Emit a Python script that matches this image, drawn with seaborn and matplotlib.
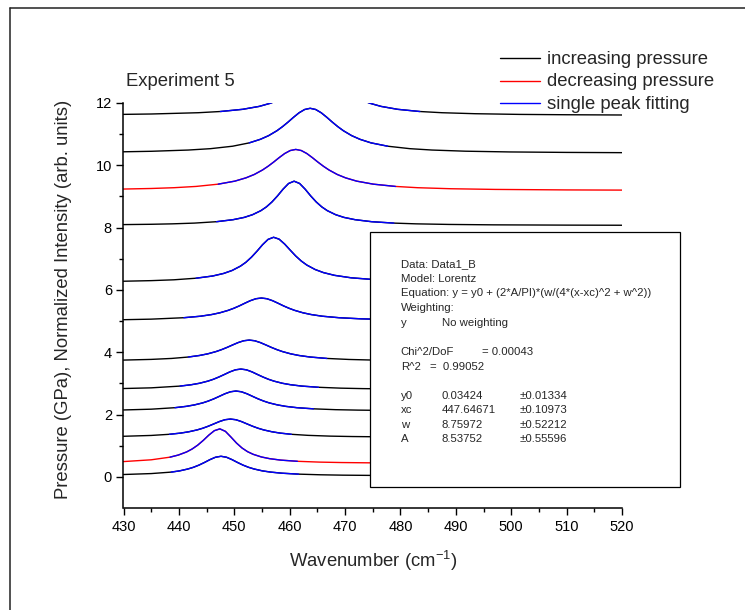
import matplotlib
matplotlib.use("Agg")
import matplotlib.pyplot as plt
from matplotlib.lines import Line2D
from matplotlib.patches import Rectangle
import numpy as np
import pandas as pd
import seaborn as sns

# ---------------- data ----------------
x1 = [430, 435, 438.6, 440.1, 441.6, 442.6, 443.6, 444.6, 445.6, 446.6, 447.6, 448.6, 449.6, 450.6,
      451.6, 452.6, 453.6, 455.1, 456.6, 458.6, 461.6, 465.6, 469.6, 475.6, 483.6, 500, 510, 520]
y1 = [0.075, 0.105, 0.152, 0.191, 0.251, 0.305, 0.375, 0.46, 0.552, 0.629, 0.66, 0.629, 0.552, 0.46,
      0.375, 0.305, 0.251, 0.191, 0.152, 0.117, 0.087, 0.066, 0.054, 0.045, 0.039, 0.034, 0.033, 0.032]

x2 = [430, 435, 438.4, 439.9, 441.4, 442.4, 443.4, 444.4, 445.4, 446.4, 447.4, 448.4, 449.4, 450.4,
      451.4, 452.4, 453.4, 454.9, 456.4, 458.4, 461.4, 465.4, 469.4, 475.4, 483.4, 500, 510, 520]
y2 = [0.49, 0.547, 0.632, 0.70, 0.80, 0.895, 1.018, 1.17, 1.339, 1.482, 1.54, 1.46, 1.278, 1.085,
      0.926, 0.808, 0.724, 0.638, 0.583, 0.537, 0.499, 0.473, 0.459, 0.448, 0.441, 0.435, 0.432, 0.43]

x3 = [430, 435, 438.3, 440.3, 441.8, 443.3, 444.3, 445.3, 446.3, 447.3, 448.3, 449.3, 450.3, 451.3,
      452.3, 453.3, 454.3, 455.3, 456.8, 458.3, 460.3, 463.3, 467.3, 471.3, 477.3, 485.3, 500, 510, 520]
y3 = [1.302, 1.329, 1.366, 1.404, 1.447, 1.507, 1.56, 1.625, 1.699, 1.774, 1.833, 1.855, 1.833, 1.774,
      1.699, 1.625, 1.56, 1.507, 1.447, 1.404, 1.366, 1.332, 1.307, 1.294, 1.283, 1.276, 1.271, 1.268, 1.266]

x4 = [430, 435, 439.3, 441.3, 442.8, 444.3, 445.3, 446.3, 447.3, 448.3, 449.3, 450.3, 451.3, 452.3,
      453.3, 454.3, 455.3, 456.3, 457.8, 459.3, 461.3, 464.3, 468.3, 472.3, 478.3, 486.3, 500, 510, 520]
y4 = [2.147, 2.172, 2.22, 2.262, 2.309, 2.374, 2.433, 2.503, 2.584, 2.666, 2.73, 2.755, 2.73, 2.666,
      2.584, 2.503, 2.433, 2.374, 2.309, 2.262, 2.22, 2.183, 2.156, 2.142, 2.13, 2.122, 2.116, 2.113, 2.111]

x5 = [430, 435, 440.2, 442.2, 443.7, 445.2, 446.2, 447.2, 448.2, 449.2, 450.2, 451.2, 452.2, 453.2,
      454.2, 455.2, 456.2, 457.2, 458.7, 460.2, 462.2, 465.2, 469.2, 473.2, 479.2, 487.2, 500, 510, 520]
y5 = [2.835, 2.857, 2.913, 2.956, 3.003, 3.071, 3.13, 3.203, 3.285, 3.369, 3.435, 3.46, 3.435, 3.369,
      3.285, 3.203, 3.13, 3.071, 3.003, 2.956, 2.913, 2.875, 2.847, 2.832, 2.82, 2.812, 2.807, 2.805, 2.803]

x6 = [430, 435, 438.7, 441.7, 443.7, 445.2, 446.7, 447.7, 448.7, 449.7, 450.7, 451.7, 452.7, 453.7,
      454.7, 455.7, 456.7, 457.7, 458.7, 460.2, 461.7, 463.7, 466.7, 470.7, 474.7, 480.7, 488.7, 500, 510, 520]
y6 = [3.748, 3.77, 3.801, 3.846, 3.895, 3.948, 4.021, 4.083, 4.155, 4.234, 4.31, 4.368, 4.39, 4.368,
      4.31, 4.234, 4.155, 4.083, 4.021, 3.948, 3.895, 3.846, 3.801, 3.768, 3.75, 3.735, 3.726, 3.719, 3.716, 3.714]

x7 = [430, 435, 440.9, 443.9, 445.9, 447.4, 448.9, 449.9, 450.9, 451.9, 452.9, 453.9, 454.9, 455.9,
      456.9, 457.9, 458.9, 459.9, 460.9, 462.4, 463.9, 465.9, 468.9, 472.9, 476.9, 482.9, 490.9, 500, 510, 520]
y7 = [5.044, 5.062, 5.108, 5.156, 5.209, 5.266, 5.344, 5.41, 5.487, 5.573, 5.655, 5.717, 5.74, 5.717,
      5.655, 5.573, 5.487, 5.41, 5.344, 5.266, 5.209, 5.156, 5.108, 5.072, 5.053, 5.037, 5.027, 5.021, 5.017, 5.014]

x8 = [430, 435, 439.1, 443.1, 446.1, 448.1, 449.6, 451.1, 452.1, 453.1, 454.1, 455.1, 456.1, 457.1,
      458.1, 459.1, 460.1, 461.1, 462.1, 463.1, 464.6, 466.1, 468.1, 471.1, 475.1, 479.1, 485.1, 493.1, 500, 510, 520]
y8 = [6.279, 6.298, 6.325, 6.376, 6.447, 6.53, 6.624, 6.762, 6.888, 7.051, 7.243, 7.451, 7.622, 7.69,
      7.629, 7.471, 7.277, 7.088, 6.927, 6.798, 6.655, 6.556, 6.468, 6.389, 6.334, 6.305, 6.281, 6.265, 6.258, 6.252, 6.249]

x9 = [430, 435, 438.8, 442.8, 446.8, 449.8, 451.8, 453.3, 454.8, 455.8, 456.8, 457.8, 458.8, 459.8,
      460.8, 461.8, 462.8, 463.8, 464.8, 465.8, 466.8, 468.3, 469.8, 471.8, 474.8, 478.8, 482.8, 488.8, 496.8, 510, 520]
y9 = [8.097, 8.107, 8.121, 8.145, 8.19, 8.255, 8.328, 8.415, 8.544, 8.665, 8.823, 9.017, 9.233, 9.416,
      9.49, 9.416, 9.233, 9.017, 8.823, 8.665, 8.544, 8.415, 8.328, 8.255, 8.19, 8.145, 8.121, 8.102, 8.089, 8.08, 8.076]

x10 = [430, 435, 439.1, 443.1, 447.1, 450.1, 452.1, 453.6, 455.1, 456.1, 457.1, 458.1, 459.1, 460.1,
       461.1, 462.1, 463.1, 464.1, 465.1, 466.1, 467.1, 468.6, 470.1, 472.1, 475.1, 479.1, 483.1, 489.1, 497.1, 510, 520]
y10 = [9.238, 9.256, 9.281, 9.322, 9.395, 9.492, 9.597, 9.705, 9.85, 9.969, 10.103, 10.246, 10.378, 10.474,
       10.51, 10.474, 10.378, 10.246, 10.103, 9.969, 9.85, 9.705, 9.597, 9.492, 9.395, 9.322, 9.281, 9.248, 9.226, 9.21, 9.204]

x11 = [430, 435, 441.7, 445.7, 449.7, 452.7, 454.7, 456.2, 457.7, 458.7, 459.7, 460.7, 461.7, 462.7,
       463.7, 464.7, 465.7, 466.7, 467.7, 468.7, 469.7, 471.2, 472.7, 474.7, 477.7, 481.7, 485.7, 491.7, 499.7, 510, 520]
y11 = [10.434, 10.45, 10.49, 10.534, 10.613, 10.72, 10.834, 10.952, 11.11, 11.24, 11.386, 11.542, 11.686, 11.791,
       11.83, 11.791, 11.686, 11.542, 11.386, 11.24, 11.11, 10.952, 10.834, 10.72, 10.613, 10.534, 10.49, 10.453, 10.429, 10.414, 10.406]

x12 = [430, 435, 443.5, 447.5, 451.5, 454.5, 456.5, 458.0, 459.5, 460.5, 461.5, 462.5, 463.5, 464.5,
       465.5, 466.5, 467.5, 468.5, 469.5, 470.5, 471.5, 473.0, 474.5, 476.5, 479.5, 483.5, 487.5, 493.5, 501.5, 510, 520]
y12 = [11.635, 11.647, 11.688, 11.727, 11.797, 11.891, 11.991, 12.095, 12.235, 12.349, 12.479, 12.616, 12.743, 12.836,
       12.87, 12.836, 12.743, 12.616, 12.479, 12.349, 12.235, 12.095, 11.991, 11.891, 11.797, 11.727, 11.688, 11.656, 11.634, 11.623, 11.615]

curve_x = [x1, x2, x3, x4, x5, x6, x7, x8, x9, x10, x11, x12]
curve_y = [y1, y2, y3, y4, y5, y6, y7, y8, y9, y10, y11, y12]
curve_kind = ["increasing pressure", "decreasing pressure", "increasing pressure",
              "increasing pressure", "increasing pressure", "increasing pressure",
              "increasing pressure", "increasing pressure", "increasing pressure",
              "decreasing pressure", "increasing pressure", "increasing pressure"]
# wavenumber range covered by the single peak fit of each curve
fit_lo = [436, 436, 436, 437, 437, 439.5, 439.5, 443, 446, 447, 451, 447]
fit_hi = [465, 463, 463, 465, 466.5, 468.5, 478, 478, 480, 480, 478, 484]

legend_labels = ["increasing pressure", "decreasing pressure", "single peak fitting"]
legend_colors = ["#000000", "#ff0000", "#0000ff"]

x_ticks = [430, 440, 450, 460, 470, 480, 490, 500, 510, 520]
y_ticks = [0, 2, 4, 6, 8, 10, 12]

box_lines = [
    ["Data: Data1_B"],
    ["Model: Lorentz"],
    ["Equation: y = y0 + (2*A/PI)*(w/(4*(x-xc)^2 + w^2))"],
    ["Weighting:"],
    ["y", "No weighting"],
    [],
    ["Chi^2/DoF", "", "= 0.00043"],
    ["R^2", "", "", "=  0.99052"],
    [],
    ["y0", "0.03424", "", "", "\u00b10.01334"],
    ["xc", "447.64671", "", "", "\u00b10.10973"],
    ["w", "8.75972", "", "", "\u00b10.52212"],
    ["A", "8.53752", "", "", "\u00b10.55596"],
]

# ---------------- build tables ----------------
rows, fit_rows = [], []
for i, (xs, ys, kind, lo, hi) in enumerate(zip(curve_x, curve_y, curve_kind, fit_lo, fit_hi)):
    for x, y in zip(xs, ys):
        rows.append({"curve": i, "x": x, "y": y, "kind": kind})
        if lo <= x <= hi:
            fit_rows.append({"curve": i, "x": x, "y": y, "kind": "single peak fitting"})
df = pd.DataFrame(rows)
df_fit = pd.DataFrame(fit_rows)

# ---------------- style ----------------
sns.set_style("ticks")
plt.rcParams["font.family"] = ["Liberation Sans", "DejaVu Sans"]
plt.rcParams["mathtext.default"] = "regular"

W, H = 745, 610
fig = plt.figure(figsize=(W / 100, H / 100), dpi=100)
fig.patch.set_facecolor("white")

def fx(px):
    return px / W

def fy(py):
    return 1 - py / H

ax = fig.add_axes([fx(123.5), fy(508), (622 - 123.5) / W, (508 - 103) / H])
ax.set_facecolor("white")

pal = dict(zip(legend_labels, legend_colors))
sns.lineplot(data=df, x="x", y="y", hue="kind", units="curve", estimator=None,
             sort=False, palette=pal, legend=False, lw=1.0, ax=ax)
sns.lineplot(data=df_fit, x="x", y="y", hue="kind", units="curve", estimator=None,
             sort=False, palette=pal, legend=False, lw=1.0, ax=ax)

ax.set_xlim(430, 520)
ax.set_ylim(-1, 12)
ax.set_xticks(x_ticks)
ax.set_xticks([435 + 10 * k for k in range(9)], minor=True)
ax.set_yticks(y_ticks)
ax.set_yticks([1, 3, 5, 7, 9, 11], minor=True)
for s in ["top", "right"]:
    ax.spines[s].set_visible(False)
for s in ["left", "bottom"]:
    ax.spines[s].set_linewidth(1.1)
    ax.spines[s].set_color("black")
ax.tick_params(which="major", direction="out", length=4.8, width=1.0, colors="black",
               labelsize=10.5, pad=3.5)
ax.tick_params(which="minor", direction="out", length=3.0, width=1.0, colors="black")

ax.set_xlabel("Wavenumber (cm$^{-1}$)", fontsize=13.3)
ax.set_ylabel("Pressure (GPa), Normalized Intensity (arb. units)", fontsize=13.3)
ax.xaxis.set_label_coords(0.5, (508 - 549) / 405)
ax.yaxis.set_label_coords((72.5 - 123.5) / 498.5, 0.515)

# title-like annotation
fig.text(fx(126), fy(86), "Experiment 5", fontsize=13.3, va="baseline", ha="left")

# legend (outside plotting area, top right)
for i, (lab, col) in enumerate(zip(legend_labels, legend_colors)):
    yl = 58.3 + 22.2 * i
    fig.add_artist(Line2D([fx(500), fx(540)], [fy(yl), fy(yl)], color=col, lw=1.0,
                          transform=fig.transFigure))
    fig.text(fx(547), fy(yl + 6.0), lab, fontsize=13.3, va="baseline", ha="left")

# fit results box
fig.add_artist(Rectangle((fx(369.5), fy(486.5)), (679.5 - 369.5) / W, (486.5 - 231.5) / H,
                         transform=fig.transFigure, facecolor="white", edgecolor="black",
                         lw=0.9, zorder=5))
col_x = [400.7, 441.7, 481.7, 430.0, 520.0]
for i, parts in enumerate(box_lines):
    yb = 267.3 + 14.6 * i
    for j, t in enumerate(parts):
        if t:
            fig.text(fx(col_x[j]), fy(yb), t, fontsize=8.2, va="baseline", ha="left", zorder=6)

# outer frame (left and top edges)
fig.add_artist(Line2D([fx(9.5), fx(9.5)], [0, fy(8.3)], color="#222222", lw=1.1,
                      transform=fig.transFigure))
fig.add_artist(Line2D([fx(9.5), 1], [fy(8.3), fy(8.3)], color="#222222", lw=1.1,
                      transform=fig.transFigure))

fig.savefig("out.png", dpi=100, facecolor="white")
